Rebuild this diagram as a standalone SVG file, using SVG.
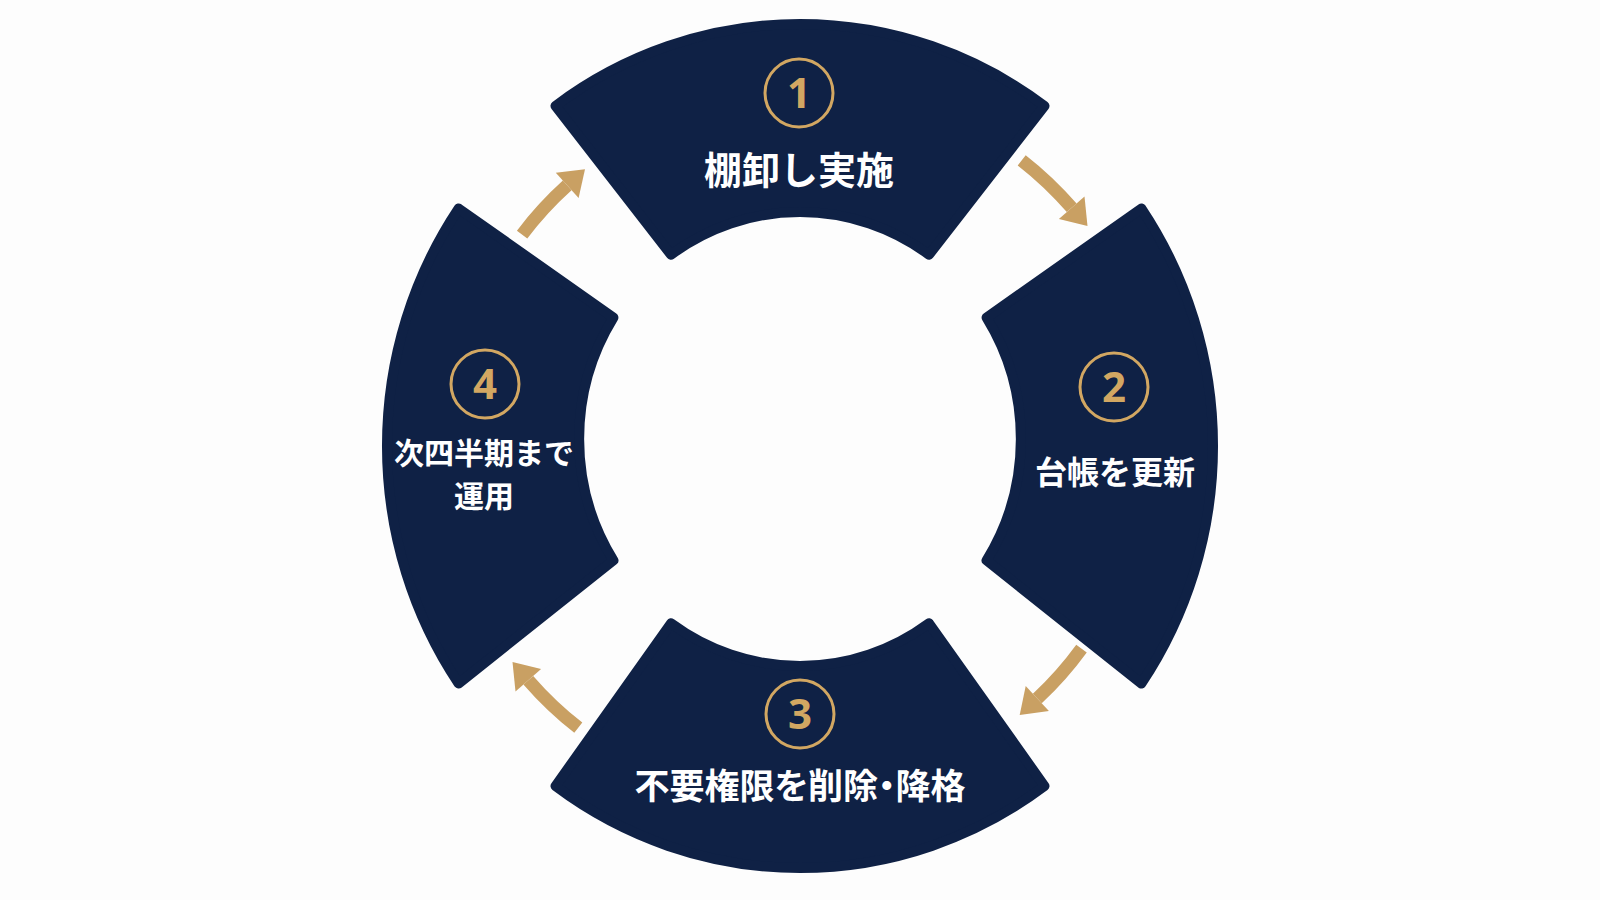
<svg xmlns="http://www.w3.org/2000/svg" width="1600" height="900" viewBox="0 0 1600 900">
  <defs>
    <style>
      .seg { fill: #0f2145; stroke: #0f2145; stroke-width: 10; stroke-linejoin: round; }
      .ring { fill: none; stroke: #d2a762; stroke-width: 3; }
      .num { font-family: "Noto Sans", "Liberation Sans", sans-serif; font-weight: 700; font-size: 42px; fill: #d2a762; text-anchor: middle; }
      .lbl { font-family: "Noto Sans CJK JP", "Noto Sans", sans-serif; font-weight: 700; fill: #ffffff; text-anchor: middle; }
      .narrow { font-feature-settings: "palt" 1; }
      .shaft { fill: none; stroke: #c9a063; stroke-width: 13; stroke-linecap: butt; }
      .head { fill: #c9a063; }
    </style>
  </defs>
  <rect x="0" y="0" width="1600" height="900" fill="#fdfdfd"/>

  <g id="node-1">
    <path class="seg" d="M 555.5 105.9 A 413 422 0 0 1 1044.5 105.9 L 929 254.7 A 221 227 0 0 0 671 254.7 Z"/>
    <circle class="ring" cx="799" cy="93" r="34"/>
    <text class="num" x="799" y="108">1</text>
    <text class="lbl" x="799" y="184" font-size="38">棚卸し実施</text>
  </g>

  <g id="node-2">
    <path class="seg" d="M 1141.4 208.5 A 413 422 0 0 1 1141.4 683.5 L 986.6 560.4 A 221 227 0 0 0 986.6 317.6 Z"/>
    <circle class="ring" cx="1114" cy="387" r="34"/>
    <text class="num" x="1114" y="402">2</text>
    <text class="lbl" x="1115" y="484" font-size="32">台帳を更新</text>
  </g>

  <g id="node-3">
    <path class="seg" d="M 1044.5 786.1 A 413 422 0 0 1 555.5 786.1 L 671 623.3 A 221 227 0 0 0 929 623.3 Z"/>
    <circle class="ring" cx="800" cy="714" r="34"/>
    <text class="num" x="800" y="729">3</text>
    <text class="lbl narrow" x="800" y="799" font-size="35">不要権限を削除・降格</text>
  </g>

  <g id="node-4">
    <path class="seg" d="M 458.6 683.5 A 413 422 0 0 1 458.6 208.5 L 613.4 317.6 A 221 227 0 0 0 613.4 560.4 Z"/>
    <circle class="ring" cx="485" cy="384" r="34"/>
    <text class="num" x="485" y="399">4</text>
    <text class="lbl" x="484" y="464" font-size="30">次四半期まで</text>
    <text class="lbl" x="484" y="507" font-size="30">運用</text>
  </g>

  <g id="connectors">
    <path class="shaft" d="M 1021.7 160.3 A 360 360 0 0 1 1071.7 207.8"/>
    <polygon class="head" points="1084.5,196.6 1087.5,225.9 1058.9,219.0"/>

    <path class="shaft" d="M 1081.5 648.6 A 348 348 0 0 1 1037.3 698.5"/>
    <polygon class="head" points="1048.9,710.9 1019.7,714.9 1025.7,686.1"/>

    <path class="shaft" d="M 578.3 727.7 A 360 360 0 0 1 528.3 680.2"/>
    <polygon class="head" points="515.5,691.4 512.5,662.1 541.1,669.0"/>

    <path class="shaft" d="M 522.1 234.6 A 348 348 0 0 1 567.2 185.4"/>
    <polygon class="head" points="555.8,172.8 585.0,169.3 578.6,198.0"/>
  </g>
</svg>
